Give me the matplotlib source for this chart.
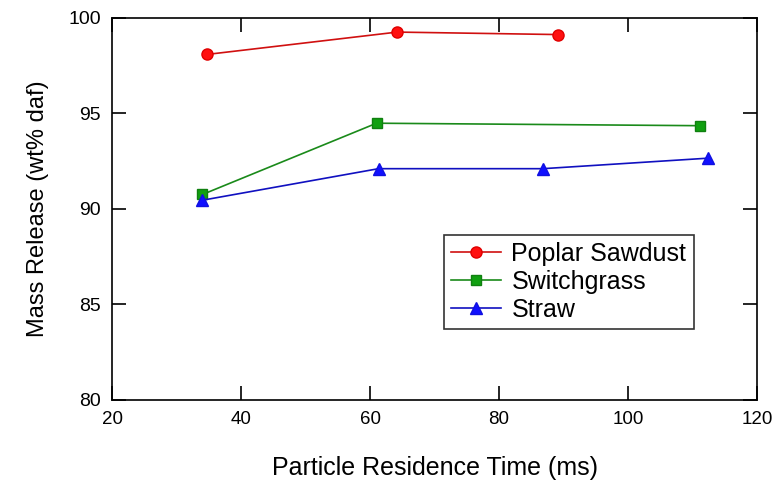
import matplotlib.pyplot as plt

plt.rcParams['font.family'] = ['Liberation Sans', 'DejaVu Sans']

poplar_x = [34.7, 64.2, 89.2]
poplar_y = [98.08, 99.25, 99.12]
switch_x = [34.0, 61.0, 111.2]
switch_y = [90.75, 94.48, 94.35]
straw_x = [34.0, 61.3, 86.8, 112.4]
straw_y = [90.45, 92.1, 92.1, 92.65]

x_ticks = [20, 40, 60, 80, 100, 120]
y_ticks = [80, 85, 90, 95, 100]

fig = plt.figure(figsize=(7.74, 4.8), dpi=100)
ax = fig.add_axes([0.145, 0.167, 0.833, 0.796])

ax.plot(poplar_x, poplar_y, color='#d01010', lw=1.2, marker='o', ms=8,
        mfc='#ff1010', mec='#e00000', label='Poplar Sawdust')
ax.plot(switch_x, switch_y, color='#1a8a1a', lw=1.2, marker='s', ms=7.5,
        mfc='#10a010', mec='#108010', label='Switchgrass')
ax.plot(straw_x, straw_y, color='#1010c0', lw=1.2, marker='^', ms=8,
        mfc='#1010ff', mec='#1010e0', label='Straw')

ax.set_xlim(20, 120)
ax.set_ylim(80, 100)
ax.set_xticks(x_ticks)
ax.set_yticks(y_ticks)
ax.tick_params(direction='in', length=10, width=1.2, top=True, right=True,
               labelsize=14, pad=8)
ax.tick_params(axis='x', labelsize=13.5)
for s in ax.spines.values():
    s.set_linewidth(1.2)

ax.set_xlabel('Particle Residence Time (ms)', fontsize=18, labelpad=20)
ax.set_ylabel('Mass Release (wt% daf)', fontsize=17, labelpad=14)

leg = ax.legend(loc='upper left', bbox_to_anchor=(0.495, 0.465), fontsize=18,
                frameon=True, fancybox=False, edgecolor='black',
                handlelength=2.0, handletextpad=0.4, borderpad=0.3,
                labelspacing=0.15)
leg.get_frame().set_linewidth(1.2)

fig.savefig('out.png', dpi=100)
